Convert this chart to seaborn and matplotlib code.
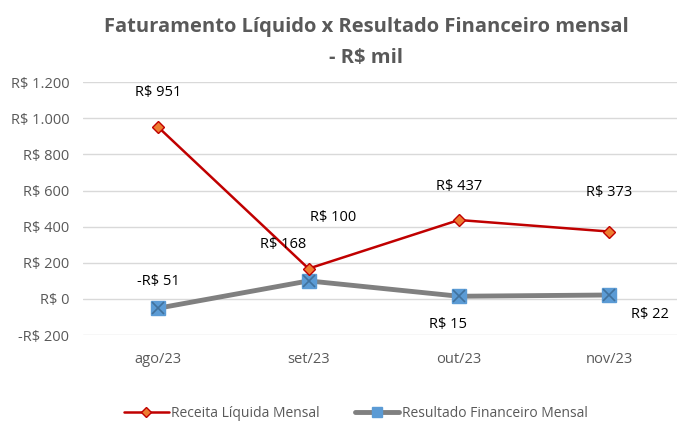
import pandas as pd
import seaborn as sns
import matplotlib.pyplot as plt
from matplotlib.lines import Line2D

meses = ["ago/23", "set/23", "out/23", "nov/23"]
receita = [951, 168, 437, 373]
resultado = [-51, 100, 15, 22]

df = pd.DataFrame({"mes": meses, "receita": receita, "resultado": resultado})

sns.set_style("white")
plt.rcParams['font.family'] = ['Open Sans', 'DejaVu Sans']
cinza = "#595959"

fig = plt.figure(figsize=(6.77, 4.21), dpi=100)
ax = fig.add_axes([0.123, 0.204, 0.877, 0.601])

sns.lineplot(data=df, x="mes", y="resultado", ax=ax, color="#808080", linewidth=3.5, sort=False)
sns.lineplot(data=df, x="mes", y="receita", ax=ax, color="#C00000", linewidth=1.8, sort=False)
ax.plot(df["mes"], df["resultado"], ls="none", marker="s", ms=10, mfc="#5B9BD5", mec="#5B9BD5", zorder=4)
ax.plot(df["mes"], df["resultado"], ls="none", marker="x", ms=8, mec="#41719C", mew=1.2, zorder=5)
ax.plot(df["mes"], df["receita"], ls="none", marker="D", ms=6.5, mfc="#ED7D31", mec="#C00000", mew=1, zorder=6)

def rs(v):
    s = "R$ {:,.0f}".format(abs(v)).replace(",", ".")
    return "-" + s if v < 0 else s

# rotulos de dados (deslocamento em pontos)
off_rec = [(0, 25), (-18, 17), (0, 24), (0, 28)]
off_res = [(0, 19), (18, 46), (-8, -20), (29, -14)]
for i, m in enumerate(meses):
    ax.annotate(rs(receita[i]), (i, receita[i]), xytext=off_rec[i], textcoords="offset points",
                ha="center", va="center", fontsize=10.5, color="black")
    ax.annotate(rs(resultado[i]), (i, resultado[i]), xytext=off_res[i], textcoords="offset points",
                ha="center", va="center", fontsize=10.5, color="black")

ax.set_ylim(-200, 1200)
ax.set_yticks(range(-200, 1201, 200))
ax.set_yticklabels([rs(v) for v in range(-200, 1201, 200)])
ax.set_xlim(-0.498, 3.45)
ax.grid(axis="y", color="#D9D9D9", linewidth=1)
ax.set_axisbelow(True)
for s in ax.spines.values():
    s.set_visible(False)
ax.tick_params(axis="both", length=0, labelsize=10.5, colors=cinza)
ax.tick_params(axis="x", pad=12)
ax.tick_params(axis="y", pad=10)
ax.set_xlabel("")
ax.set_ylabel("")

fig.text(0.541, 0.937, "Faturamento Líquido x Resultado Financeiro mensal", ha="center", va="center",
         fontsize=14.5, fontweight="bold", color=cinza)
fig.text(0.541, 0.862, "- R$ mil", ha="center", va="center", fontsize=14.5, fontweight="bold", color=cinza)

handles = [
    Line2D([], [], color="#C00000", lw=1.8, marker="D", ms=5, mfc="#ED7D31", mec="#C00000"),
    Line2D([], [], color="#808080", lw=3.5, marker="s", ms=7, mfc="#5B9BD5", mec="#5B9BD5"),
]
fig.legend(handles, ["Receita Líquida Mensal", "Resultado Financeiro Mensal"], loc="center",
           bbox_to_anchor=(0.526, 0.019), ncol=2, frameon=False, fontsize=10, handlelength=3.2,
           handletextpad=0.2, columnspacing=2.5, labelcolor=cinza)

plt.savefig("out.png", dpi=100)
